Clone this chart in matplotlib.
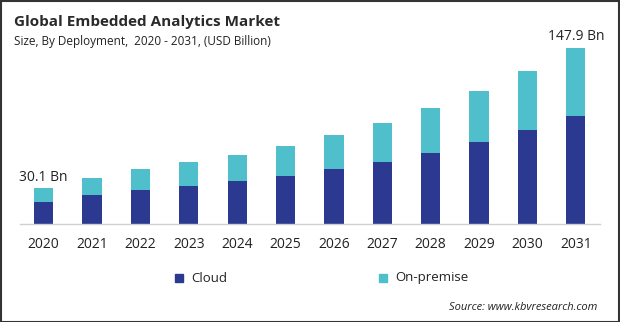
import matplotlib
matplotlib.use('Agg')
import matplotlib.pyplot as plt
from matplotlib.patches import Rectangle

plt.rcParams['font.family'] = ['Open Sans', 'DejaVu Sans']

# market size by deployment, USD billion
years = ['2020', '2021', '2022', '2023', '2024', '2025',
         '2026', '2027', '2028', '2029', '2030', '2031']
cloud = [18.7, 24.4, 28.6, 31.9, 36.1, 40.3, 46.2, 52.1, 59.7, 68.9, 79.0, 90.8]
on_premise = [11.4, 14.3, 17.6, 20.2, 21.9, 25.2, 28.6, 32.8, 37.8, 42.9, 49.6, 57.1]
end_labels = {0: '30.1 Bn', 11: '147.9 Bn'}

CLOUD_COLOUR = '#2b3990'
PREMISE_COLOUR = '#4fc0cb'

W, H = 620, 322
fig = plt.figure(figsize=(W / 100, H / 100), dpi=100)

# axes placed in pixel terms: baseline at y=224, top at y=30
left, right, top, base = 20, 600, 30, 224
ax = fig.add_axes([left / W, (H - base) / H, (right - left) / W, (base - top) / H])

x = range(len(years))
ax.bar(x, cloud, width=0.4, color=CLOUD_COLOUR, label='Cloud')
ax.bar(x, on_premise, width=0.4, bottom=cloud, color=PREMISE_COLOUR, label='On-premise')

ax.set_xlim(-0.49, 11.5)
ax.set_ylim(0, 163)
for s in ['top', 'right', 'left']:
    ax.spines[s].set_visible(False)
ax.spines['bottom'].set_color('#d0d0d0')
ax.spines['bottom'].set_linewidth(1)
ax.set_yticks([])
ax.set_xticks(list(x))
ax.set_xticklabels(years, fontsize=10, color='#222222')
ax.tick_params(axis='x', length=0, pad=9)

for i, txt in end_labels.items():
    total = cloud[i] + on_premise[i]
    ax.text(i, total + 3, txt, ha='center', va='bottom', fontsize=10, color='#222222')

# titles
fig.text(14 / W, 1 - 22 / H, 'Global Embedded Analytics Market', fontsize=11,
         fontweight='bold', color='#2a2a2a', va='center', ha='left')
fig.text(14 / W, 1 - 42 / H, 'Size, By Deployment,  2020 - 2031, (USD Billion)', fontsize=8.5,
         color='#222222', va='center', ha='left')

# legend drawn by hand
for px, label, col in [(179, 'Cloud', CLOUD_COLOUR), (383, 'On-premise', PREMISE_COLOUR)]:
    fig.patches.append(Rectangle(((px - 4) / W, 1 - 282 / H), 8 / W, 8 / H,
                                 transform=fig.transFigure, color=col))
    fig.text((px + 12) / W, 1 - 278 / H, label, fontsize=9.5, color='#222222',
             va='center', ha='left')

fig.text(597 / W, 1 - 307 / H, 'Source: www.kbvresearch.com', fontsize=8,
         style='italic', color='#222222', va='center', ha='right')

# outer frame
fig.patches.append(Rectangle((0.5 / W, 0.5 / H), 1 - 1.5 / W, 1 - 1.5 / H,
                             transform=fig.transFigure, fill=False,
                             edgecolor='#333333', linewidth=1.5))

fig.savefig('out.png', dpi=100)
